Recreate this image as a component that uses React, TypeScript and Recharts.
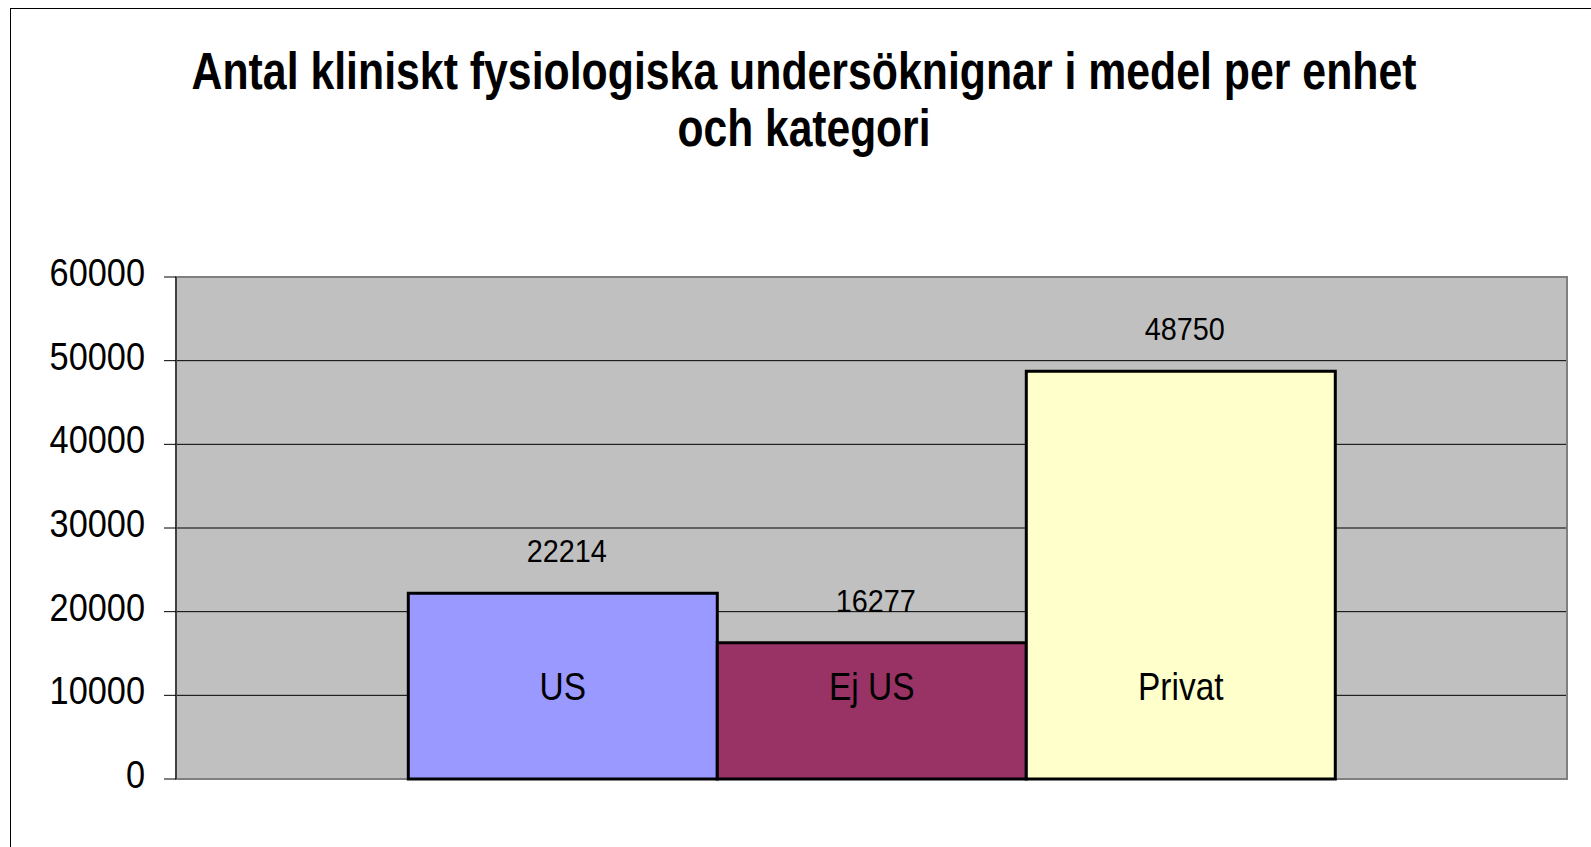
import React from "react";
import { BarChart, Bar, XAxis, YAxis, CartesianGrid, LabelList, ReferenceArea } from "recharts";

const categories = ["Enheter"];
const seriesNames = ["US", "Ej US", "Privat"];
const seriesValues = [22214, 16277, 48750];
const seriesColors = ["#9999FF", "#993366", "#FFFFCC"];
const yTicks = [0, 10000, 20000, 30000, 40000, 50000, 60000];
const titleLines = ["Antal kliniskt fysiologiska undersöknignar i medel per enhet", "och kategori"];

const data = categories.map((c) => {
  const row: Record<string, any> = { name: c };
  seriesNames.forEach((s, i) => (row[s] = seriesValues[i]));
  return row;
});

const FONT = "'Liberation Sans', Arial, sans-serif";

const YTick = (props: any) => {
  const { x, y, payload } = props;
  return (
    <g transform={`translate(${x - 17},${y + 9}) scale(0.88,1)`}>
      <text x={0} y={0} textAnchor="end" fontFamily={FONT} fontSize={39} fill="#000">
        {payload.value}
      </text>
    </g>
  );
};

const makeValueLabel = () => (props: any) => {
  const { x, y, width, value } = props;
  const cx = Number(x) + Number(width) / 2 + 4;
  return (
    <g transform={`translate(${cx},${Number(y) - 31}) scale(0.9,1)`}>
      <text x={0} y={0} textAnchor="middle" fontFamily={FONT} fontSize={32} fill="#000">
        {value}
      </text>
    </g>
  );
};

const makeNameLabel = (name: string) => (props: any) => {
  const { x, y, width, height } = props;
  const cx = Number(x) + Number(width) / 2;
  const base = Number(y) + Number(height);
  return (
    <g transform={`translate(${cx},${base - 79}) scale(0.88,1)`}>
      <text x={0} y={0} textAnchor="middle" fontFamily={FONT} fontSize={38} fill="#000">
        {name}
      </text>
    </g>
  );
};

export default function App() {
  return (
    <div style={{ position: "fixed", left: 0, top: 0, width: 1591, height: 847, overflow: "hidden", background: "#fff" }}>
      <div
        style={{
          position: "absolute",
          left: 10,
          top: 8,
          width: 1700,
          height: 1000,
          borderLeft: "1.5px solid #000",
          borderTop: "1.5px solid #000",
          boxSizing: "border-box",
        }}
      />
      <div style={{ position: "absolute", left: 0, top: 0 }}>
        <BarChart
          width={1591}
          height={847}
          data={data}
          margin={{ top: 277, right: 24, bottom: 68, left: 10 }}
          barCategoryGap="16.7%"
          barGap={0}
        >
          <CartesianGrid vertical={false} stroke="#000" strokeWidth={1} fill="#C0C0C0" fillOpacity={1} />
          <XAxis dataKey="name" hide />
          <YAxis
            width={166}
            domain={[0, 60000]}
            ticks={yTicks}
            interval={0}
            axisLine={{ stroke: "#404040", strokeWidth: 2 }}
            tickLine={{ stroke: "#000", strokeWidth: 1 }}
            tickSize={12}
            tick={<YTick />}
          />
          <ReferenceArea y1={0} y2={60000} fill="none" stroke="#808080" strokeWidth={2} ifOverflow="visible" />
          {seriesNames.map((s, i) => (
            <Bar key={s} dataKey={s} fill={seriesColors[i]} stroke="#000" strokeWidth={3} isAnimationActive={false}>
              <LabelList dataKey={s} content={makeValueLabel()} />
              <LabelList dataKey={s} content={makeNameLabel(s)} />
            </Bar>
          ))}
        </BarChart>
      </div>
      <svg style={{ position: "absolute", left: 0, top: 0 }} width={1591} height={200}>
        <g transform="translate(804,89) scale(1,1.275)">
          <text x={0} y={0} textAnchor="middle" fontFamily={FONT} fontWeight="bold" fontSize={40} textLength={1225} lengthAdjust="spacingAndGlyphs" fill="#000">
            {titleLines[0]}
          </text>
        </g>
        <g transform="translate(804,146) scale(1,1.275)">
          <text x={0} y={0} textAnchor="middle" fontFamily={FONT} fontWeight="bold" fontSize={40} textLength={253} lengthAdjust="spacingAndGlyphs" fill="#000">
            {titleLines[1]}
          </text>
        </g>
      </svg>
    </div>
  );
}
